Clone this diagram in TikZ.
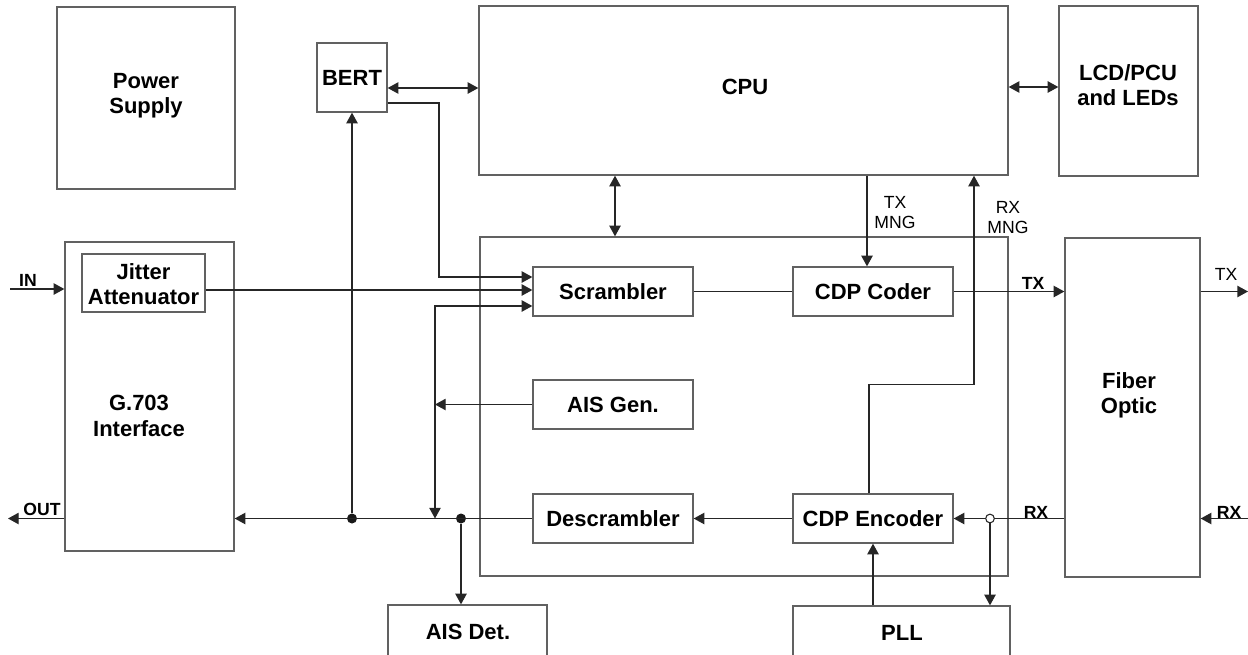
\documentclass[tikz,border=0pt]{standalone}
\usepackage{fontspec}
\setmainfont{Liberation Sans}
\usetikzlibrary{arrows.meta,fit,calc}
\tikzset{
 box/.style={draw=black!62, line width=1pt, inner sep=0pt},
 lbl/.style={font=\fontsize{16.5}{19}\selectfont\bfseries, align=center, inner sep=0pt},
 sig/.style={font=\fontsize{13.2}{15}\selectfont, align=center, inner sep=0pt},
 sigb/.style={font=\fontsize{13.2}{15}\selectfont\bfseries, align=center, inner sep=0pt},
 wire/.style={draw=black!85, line width=1pt},
 arr/.style={wire, -{Triangle[length=8pt,width=8.5pt]}},
 darr/.style={wire, {Triangle[length=8pt,width=8.5pt]}-{Triangle[length=8pt,width=8.5pt]}},
 jdot/.style={circle, fill=black!90, inner sep=0pt, minimum size=7.5pt},
 odot/.style={circle, draw=black!85, fill=white, line width=0.8pt, inner sep=0pt, minimum size=6.5pt},
}
\begin{document}
\begin{tikzpicture}[x=0.75pt,y=-0.75pt]
\clip (0,0) rectangle (1248,654);
\fill[white] (0,0) rectangle (1248,654);

% helper coordinates
\coordinate (y87) at (0,87);
\coordinate (y88) at (0,88);
\coordinate (y103) at (0,103);
\coordinate (y277) at (0,277);
\coordinate (y290) at (0,290);
\coordinate (y306) at (0,306);
\coordinate (x615) at (615,0);
\coordinate (x867) at (867,0);
\coordinate (x974) at (974,0);

% boxes
\node[box, fit={(57,7) (235,189)}] (ps) {};
\node[lbl] (pst) at (146,96) {Power\\Supply};
\node[box, fit={(317,43) (387,112)}] (bert) {};
\node[lbl] (bertt) at (352,78) {BERT};
\node[box, fit={(479,6) (1008,175)}] (cpu) {};
\node[lbl] (cput) at (745,87) {CPU};
\node[box, fit={(1059,6) (1198,176)}] (lcd) {};
\node[lbl] (lcdt) at (1128,85) {LCD/PCU\\and LEDs};
\node[box, fit={(65,242) (234,551)}] (g703) {};
\node[lbl] (g703t) at (139,416) {G.703\\Interface};
\node[box, fit={(82,254) (205,312)}] (jit) {};
\node[lbl] (jitt) at (143.5,284) {Jitter\\Attenuator};
\node[box, fit={(480,237) (1008,576)}] (main) {};
\node[box, fit={(533,267) (693,316)}] (scr) {};
\node[lbl] (scrt) at (scr.center) {Scrambler};
\node[box, fit={(793,267) (953,316)}] (cdpc) {};
\node[lbl] (cdpct) at (cdpc.center) {CDP Coder};
\node[box, fit={(533,380) (693,429)}] (aisg) {};
\node[lbl] (aisgt) at (aisg.center) {AIS Gen.};
\node[box, fit={(533,494) (693,543)}] (desc) {};
\node[lbl] (desct) at (desc.center) {Descrambler};
\node[box, fit={(793,494) (953,543)}] (cdpe) {};
\node[lbl] (cdpet) at (cdpe.center) {CDP Encoder};
\node[box, fit={(388,605) (547,670)}] (aisd) {};
\node[lbl] (aisdt) at (468,632) {AIS Det.};
\node[box, fit={(793,606) (1010,670)}] (pll) {};
\node[lbl] (pllt) at (902,633) {PLL};
\node[box, fit={(1065,238) (1200,577)}] (fib) {};
\node[lbl] (fibt) at (1129,395) {Fiber\\Optic};

% junctions
\node[jdot] (d1) at (352,518.5) {};
\node[jdot] (d2) at (461,518.5) {};
\node[odot] (oc) at (990,518.5) {};
\coordinate (lp) at (435,404.5);
\coordinate (inl) at (10,289);
\coordinate (outl) at (8,518.5);
\coordinate (txo) at (1248,291.5);
\coordinate (rxi) at (1248,518.5);

% connectors
\draw[arr] (inl) -- (g703.west |- inl);
\draw[arr] (jit.east |- y290) -- (scr.west |- y290);
\draw[arr] (bert.east |- y103) -- (439,103) -- (439,277) -- (scr.west |- y277);
\draw[arr] (aisg.west) -- (lp);
\draw[arr] (lp) -- (435,306) -- (scr.west |- y306);
\draw[arr] (lp) -- (435,518.5);
\draw[arr] (desc.west) -- (g703.east |- desc.west);
\draw[arr] (d1) -- (bert.south);
\draw[arr] (d2) -- (d2 |- aisd.north);
\draw[arr] (cdpe.west) -- (desc.east);
\draw[wire] (fib.west |- oc) -- (oc);
\draw[arr] (oc) -- (cdpe.east);
\draw[arr] (oc) -- (oc |- pll.north);
\draw[arr] (pll.north -| cdpe.south) -- (cdpe.south);
\draw[arr] ($(cdpe.north)+(-4,0)$) -- ++(0,-109) -| (cpu.south -| x974);
\draw[arr] (cpu.south -| x867) -- (cdpc.north -| x867);
\draw[wire] (scr.east) -- (cdpc.west);
\draw[arr] (cdpc.east) -- (fib.west |- cdpc.east);
\draw[arr] (fib.east |- txo) -- (txo);
\draw[arr] (rxi) -- (fib.east |- rxi);
\draw[arr] (g703.west |- outl) -- (outl);
\draw[darr] (cpu.south -| x615) -- (main.north -| x615);
\draw[darr] (bert.east |- y88) -- (cpu.west |- y88);
\draw[darr] (cpu.east |- y87) -- (lcd.west |- y87);

% labels
\node[sigb, anchor=base] (inlbl) at (28,286) {IN};
\node[sigb, anchor=base] (outlbl) at (42,515) {OUT};
\node[sig] (txmng) at (895,213) {TX\\MNG};
\node[sig] (rxmng) at (1008,218) {RX\\MNG};
\node[sigb] (txb) at (1033,283) {TX};
\node[sig] (txr) at (1226,274) {TX};
\node[sigb] (rxb) at (1036,512) {RX};
\node[sigb] (rxr) at (1229,512) {RX};
\end{tikzpicture}
\end{document}
